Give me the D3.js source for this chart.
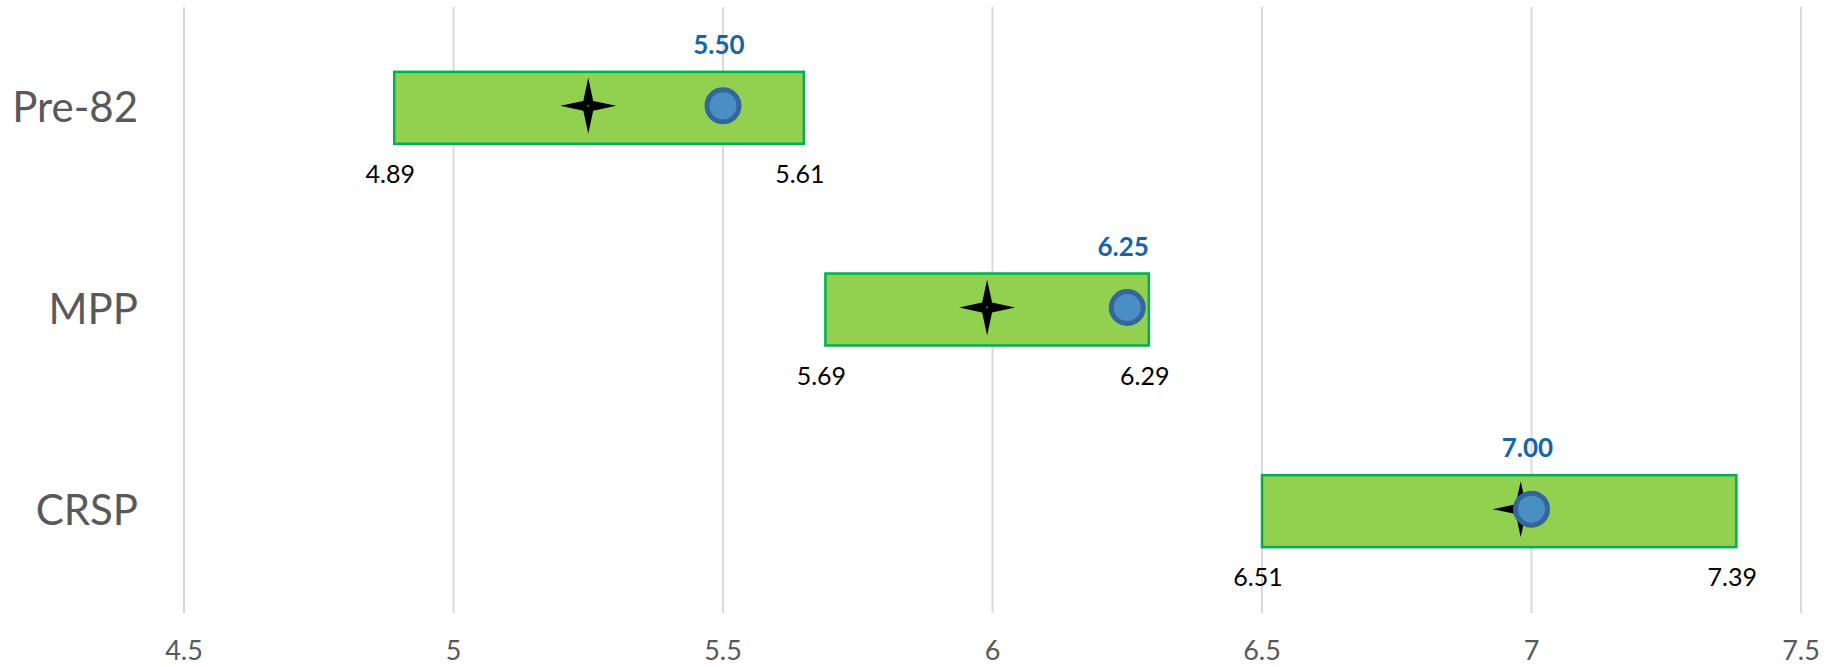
<!DOCTYPE html>
<html>
<head>
<meta charset="utf-8">
<script src="https://cdn.jsdelivr.net/npm/d3@7"></script>
<style>
  body { margin: 0; background: #fff; }
  svg { display: block; font-family: Lato, "Open Sans", sans-serif; }
</style>
</head>
<body>
<svg id="chart" width="1825" height="667"></svg>
<script>
// data
var categories = ["Pre-82", "MPP", "CRSP"];
var rangeLow = [4.89, 5.69, 6.50];
var rangeHigh = [5.65, 6.29, 7.38];
var lowLabels = ["4.89", "5.69", "6.51"];
var highLabels = ["5.61", "6.29", "7.39"];
var pointValues = [5.50, 6.25, 7.00];
var starValues = [5.25, 5.99, 6.98];
var xTicks = [4.5, 5, 5.5, 6, 6.5, 7, 7.5];

var svg = d3.select("#chart");

var xScale = d3.scaleLinear().domain([4.5, 7.5]).range([184, 1801]);
var yScale = d3.scaleBand().domain(categories).range([7, 612]);

var rows = categories.map(function (c, i) {
  return {
    cat: c,
    lo: rangeLow[i],
    hi: rangeHigh[i],
    loText: lowLabels[i],
    hiText: highLabels[i],
    point: pointValues[i],
    star: starValues[i]
  };
});

// vertical gridlines
svg.append("g")
  .selectAll("line")
  .data(xTicks)
  .enter()
  .append("line")
  .attr("x1", function (d) { return xScale(d); })
  .attr("x2", function (d) { return xScale(d); })
  .attr("y1", 7)
  .attr("y2", 613)
  .attr("stroke", "#d9d9d9")
  .attr("stroke-width", 2);

// x axis tick labels
svg.append("g")
  .selectAll("text")
  .data(xTicks)
  .enter()
  .append("text")
  .attr("x", function (d) { return xScale(d); })
  .attr("y", 660)
  .attr("text-anchor", "middle")
  .attr("font-size", "27px")
  .attr("fill", "#595959")
  .text(function (d) { return d; });

// category labels
svg.append("g")
  .selectAll("text")
  .data(categories)
  .enter()
  .append("text")
  .attr("x", 138)
  .attr("y", function (d) { return yScale(d) + yScale.bandwidth() / 2 + 14; })
  .attr("text-anchor", "end")
  .attr("font-size", "42px")
  .attr("fill", "#595959")
  .text(function (d) { return d; });

var barH = 72;
var groups = svg.append("g")
  .selectAll("g")
  .data(rows)
  .enter()
  .append("g");

// range bars
groups.append("rect")
  .attr("x", function (d) { return xScale(d.lo); })
  .attr("y", function (d) { return yScale(d.cat) + yScale.bandwidth() / 2 - barH / 2; })
  .attr("width", function (d) { return xScale(d.hi) - xScale(d.lo); })
  .attr("height", barH)
  .attr("fill", "#92d050")
  .attr("stroke", "#00b050")
  .attr("stroke-width", 2.5);

// low / high labels under the bars
groups.append("text")
  .attr("x", function (d) { return xScale(d.lo) - 4; })
  .attr("y", function (d) { return yScale(d.cat) + yScale.bandwidth() / 2 + 75; })
  .attr("text-anchor", "middle")
  .attr("font-size", "25px")
  .attr("fill", "#000")
  .text(function (d) { return d.loText; });

groups.append("text")
  .attr("x", function (d) { return xScale(d.hi) - 4; })
  .attr("y", function (d) { return yScale(d.cat) + yScale.bandwidth() / 2 + 75; })
  .attr("text-anchor", "middle")
  .attr("font-size", "25px")
  .attr("fill", "#000")
  .text(function (d) { return d.hiText; });

// 4-point star marker
function starPath(r, inner) {
  var pts = [];
  for (var k = 0; k < 8; k++) {
    var a = -Math.PI / 2 + k * Math.PI / 4;
    var rr = k % 2 === 0 ? r : inner;
    pts.push([rr * Math.cos(a), rr * Math.sin(a)]);
  }
  return "M" + pts.map(function (p) { return p[0].toFixed(2) + "," + p[1].toFixed(2); }).join("L") + "Z";
}

function markerY(d) {
  return yScale(d.cat) + yScale.bandwidth() / 2 - 2;
}

groups.append("path")
  .attr("d", starPath(28, 7))
  .attr("transform", function (d) { return "translate(" + xScale(d.star) + "," + markerY(d) + ")"; })
  .attr("fill", "#000");

groups.append("circle")
  .attr("cx", function (d) { return xScale(d.star); })
  .attr("cy", markerY)
  .attr("r", 1)
  .attr("fill", "#00b050");

// point estimate circles
groups.append("circle")
  .attr("cx", function (d) { return xScale(d.point); })
  .attr("cy", markerY)
  .attr("r", 16)
  .attr("fill", "#4a8fc4")
  .attr("stroke", "#33669a")
  .attr("stroke-width", 5);

groups.append("text")
  .attr("x", function (d) { return xScale(d.point) - 4; })
  .attr("y", function (d) { return markerY(d) - 52; })
  .attr("text-anchor", "middle")
  .attr("font-size", "26px")
  .attr("font-weight", "bold")
  .attr("fill", "#1565ad")
  .text(function (d) { return d.point.toFixed(2); });
</script>
</body>
</html>
